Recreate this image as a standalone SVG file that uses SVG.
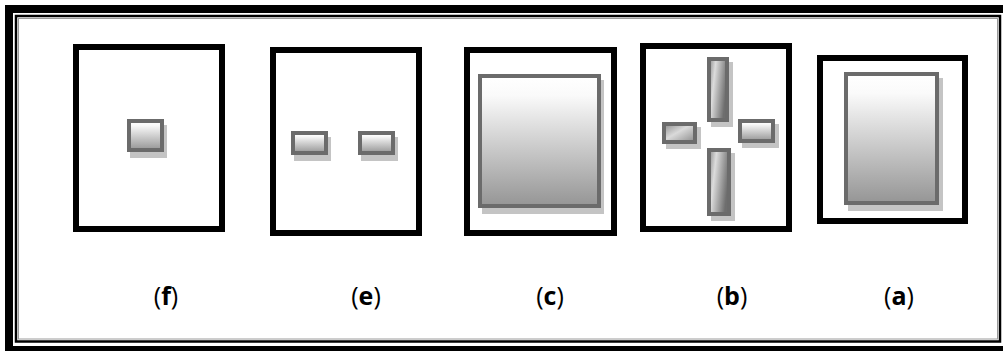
<svg xmlns="http://www.w3.org/2000/svg" width="1003" height="351" viewBox="0 0 1003 351">
<defs>
<linearGradient id="gv" x1="0" y1="0" x2="0" y2="1">
<stop offset="0" stop-color="#ffffff"/>
<stop offset="0.15" stop-color="#fafafa"/>
<stop offset="1" stop-color="#959595"/>
</linearGradient>
<linearGradient id="gd" x1="0" y1="0" x2="1" y2="0.35">
<stop offset="0" stop-color="#8a8a8a"/>
<stop offset="0.35" stop-color="#dcdcdc"/>
<stop offset="1" stop-color="#6e6e6e"/>
</linearGradient>
<linearGradient id="gh" x1="0" y1="0" x2="1" y2="1">
<stop offset="0" stop-color="#8c8c8c"/>
<stop offset="0.45" stop-color="#dadada"/>
<stop offset="1" stop-color="#8a8a8a"/>
</linearGradient>
</defs>
<style>
.frame{fill:none;stroke:#000;stroke-width:6}
.sh{fill:#c4c4c4;stroke:none}
.pc{stroke:#6b6b6b;stroke-width:4}
.v{fill:url(#gv)}
.d{fill:url(#gd)}
.h{fill:url(#gh)}
.lbl{font-family:"Open Sans","Liberation Sans",sans-serif;font-size:25px;fill:#000;text-anchor:middle}
.b{font-weight:bold}
</style>
<rect width="1003" height="351" fill="#fff"/>
<g id="border">
<rect x="9" y="9" width="1000" height="341" fill="none" stroke="#000" stroke-width="8"/>
<rect x="16" y="16" width="984" height="325.5" fill="none" stroke="#000" stroke-width="2.5"/>
<rect x="18.5" y="18.5" width="979" height="320.5" fill="none" stroke="#9a9a9a" stroke-width="1"/>
</g>
<g id="node-f">
<rect class="frame" x="76" y="47" width="146" height="182"/>
<rect class="sh" x="130" y="125" width="37" height="33"/>
<rect class="pc v" x="129" y="121" width="33" height="29"/>
<text class="lbl" x="166" y="305">(<tspan class="b">f</tspan>)</text>
</g>
<g id="node-e">
<rect class="frame" x="273" y="50" width="146" height="183"/>
<rect class="sh" x="294" y="137" width="37" height="24"/>
<rect class="pc v" x="293" y="133" width="33" height="20"/>
<rect class="sh" x="361" y="137" width="37" height="24"/>
<rect class="pc v" x="360" y="133" width="33" height="20"/>
<text class="lbl" x="366" y="305">(<tspan class="b">e</tspan>)</text>
</g>
<g id="node-c">
<rect class="frame" x="467" y="50" width="147" height="183"/>
<rect class="sh" x="482" y="80" width="122" height="134"/>
<rect class="pc v" x="480" y="76" width="119" height="130"/>
<text class="lbl" x="550" y="305">(<tspan class="b">c</tspan>)</text>
</g>
<g id="node-b">
<rect class="frame" x="643" y="46" width="146" height="183"/>
<rect class="sh" x="711" y="62" width="22" height="65"/>
<rect class="pc d" x="709" y="59" width="18" height="61"/>
<rect class="sh" x="666" y="127" width="35" height="22"/>
<rect class="pc h" x="664" y="124" width="31" height="18"/>
<rect class="sh" x="742" y="124" width="37" height="24"/>
<rect class="pc v" x="740" y="121" width="33" height="20"/>
<rect class="sh" x="711" y="153" width="24" height="68"/>
<rect class="pc d" x="709" y="150" width="20" height="64"/>
<text class="lbl" x="732" y="305">(<tspan class="b">b</tspan>)</text>
</g>
<g id="node-a">
<rect class="frame" x="820" y="58" width="145" height="163"/>
<rect class="sh" x="848" y="78" width="95" height="133"/>
<rect class="pc v" x="846" y="74" width="91" height="129"/>
<text class="lbl" x="899" y="305">(<tspan class="b">a</tspan>)</text>
</g>
<g id="connectors"/>
</svg>
